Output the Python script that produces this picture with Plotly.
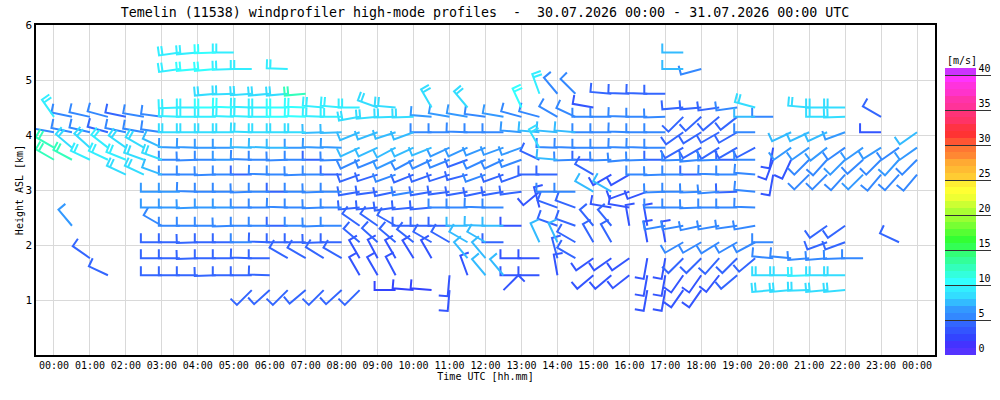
import math
import plotly.graph_objects as go


def gap(n):
    return [None] * n


# profile times, hours after 30.07.2026 00:00 UTC
times = [0.0, 0.5, 1.0, 1.5, 2.0, 2.5, 3.0, 3.5, 4.0, 4.5, 5.0, 5.5, 6.0, 6.5, 7.0, 7.5,
         8.0, 8.5, 9.0, 9.5, 10.0, 10.5, 11.0, 11.5, 12.0, 12.5, 13.0, 13.5, 14.0, 14.5,
         15.0, 15.5, 16.0, 16.5, 17.0, 17.5, 18.0, 18.5, 19.0, 19.5, 20.0, 20.5, 21.0,
         21.5, 22.0, 22.5, 23.0, 23.5, 24.0]

hour_ticks = list(range(25))
hour_labels = ["00:00", "01:00", "02:00", "03:00", "04:00", "05:00", "06:00", "07:00",
               "08:00", "09:00", "10:00", "11:00", "12:00", "13:00", "14:00", "15:00",
               "16:00", "17:00", "18:00", "19:00", "20:00", "21:00", "22:00", "23:00", "00:00"]
height_ticks = [1, 2, 3, 4, 5, 6]
speed_ticks = [0, 5, 10, 15, 20, 25, 30, 35, 40]

# range gate heights, km ASL (top to bottom)
gate_km = [5.5, 5.2, 4.75, 4.5, 4.33, 4.05, 3.77, 3.55, 3.28, 2.97, 2.68, 2.35, 2.05, 1.76, 1.45, 1.18]

# wind speed [m/s] and direction [deg] per range gate
spd_g00 = gap(7) + [9, 9, 10, 9] + gap(24) + [7] + gap(13)
dir_g00 = gap(7) + [262, 265, 268, 270] + gap(24) + [270] + gap(13)

spd_g01 = gap(7) + [9, 10, 10, 9, 9] + gap(1) + [9] + gap(21) + [7, 5] + gap(12)
dir_g01 = gap(7) + [262, 265, 265, 268, 270] + gap(1) + [272] + gap(21) + [270, 255] + gap(12)

spd_g02 = gap(9) + [8, 8, 8, 8, 8, 12] + gap(12) + [9, 5, 5] + gap(1) + [4, 4, 4, 4] + gap(14)
dir_g02 = gap(9) + [265, 268, 266, 265, 265, 265] + gap(12) + [340, 320, 315] + gap(1) + [275, 272, 272, 270] + gap(14)

spd_g03 = (gap(7) + [9, 9, 10, 10, 9, 9, 10, 10, 9, 9, 9, 8, 8] + gap(1) + [8] + gap(1) + [8]
           + gap(2) + [10] + gap(3) + [3] + gap(4) + [4, 4, 4, 5, 8] + gap(2) + [8, 8, 8] + gap(4))
dir_g03 = (gap(7) + [268, 270, 270, 272, 272, 270, 270, 272, 275, 275, 270, 290, 275] + gap(1)
           + [330] + gap(1) + [320] + gap(2) + [335] + gap(3) + [280] + gap(4)
           + [265, 265, 262, 262, 285] + gap(2) + [275, 270, 270] + gap(4))

spd_g04 = ([9, 5, 5, 5, 4, 5, 5, 9, 9, 9, 9, 9, 9, 10, 10, 9, 9, 8, 8, 8, 8, 6, 6, 6, 5, 6,
            5, 5, 5, 5, 5, 5, 5, 5, 5, 4, 4, 4, 4, 7, 5] + gap(2) + [8, 8] + gap(1) + [4] + gap(2))
dir_g04 = ([325, 282, 283, 285, 282, 280, 278, 272, 270, 270, 272, 272, 270, 270, 272, 272, 270,
            260, 265, 268, 268, 275, 280, 280, 278, 280, 285, 285, 300, 295, 270, 270, 272, 270,
            268, 225, 228, 230, 232, 270, 270] + gap(2) + [270, 268] + gap(1) + [300] + gap(2))

spd_g05 = ([5, 5, 5, 4, 5, 5, 5, 8, 8, 8, 8, 8, 8, 8, 8, 7, 7, 7, 7, 7, 7, 5, 5, 5, 5, 5,
            6, 7, 7, 7, 5, 5, 5, 5, 5, 4, 4, 4, 4, 5]
           + gap(1) + [7, 7, 7, 6] + gap(1) + [3] + gap(1) + [7])
dir_g05 = ([280, 282, 283, 285, 282, 280, 278, 270, 270, 270, 270, 272, 270, 270, 270, 268, 268,
            248, 250, 252, 250, 270, 270, 272, 270, 270, 275, 275, 275, 275, 270, 270,
            272, 270, 270, 235, 238, 240, 240, 270]
           + gap(1) + [245, 245, 245, 250] + gap(1) + [270] + gap(1) + [235])

spd_g06 = [12, 8, 8, 9, 8, 8, 7, 6, 6, 6, 6, 7, 7, 7, 6, 6, 6, 7, 7, 7, 7, 7, 6, 6, 6, 6, 6,
           8, 5, 5, 5, 5, 5, 5, 5, 4, 4, 4, 4, 4, 3, 6, 6, 6, 5, 6, 6, 5, 6]
dir_g06 = [300, 310, 312, 308, 305, 300, 295, 272, 272, 270, 270, 272, 272, 270, 270, 272, 272,
           245, 245, 242, 245, 248, 245, 245, 248, 250, 250, 330, 272, 272, 270, 270, 272, 272,
           270, 240, 240, 238, 240, 242, 190, 235, 235, 232, 235, 235, 238, 235, 235]

spd_g07 = [12, 12, 9, 9, 9, 8, 8, 5, 5, 5, 6, 5, 5, 5, 5, 4, 5, 5, 5, 6, 5, 5, 5, 4, 5, 5, 5,
           4, 7, 5, 4, 5, 5, 5, 4, 5, 5, 5, 4, 5, 3, 3, 5, 5, 6, 5, 5, 6, 5]
dir_g07 = [300, 298, 295, 295, 292, 290, 290, 270, 268, 270, 270, 272, 270, 268, 270, 270, 268,
           245, 248, 245, 242, 245, 248, 250, 245, 245, 250, 295, 275, 268, 270, 268, 265, 268,
           270, 268, 265, 268, 270, 270, 200, 205, 225, 222, 225, 228, 225, 222, 225]

spd_g08 = (gap(4) + [8, 8, 7, 5, 5, 5, 5, 4, 5, 5, 5, 5, 4, 4, 4, 5, 4, 4, 4, 4, 5, 4, 4, 4, 4]
           + gap(1) + [4, 3, 3, 5, 5, 5, 4, 5, 5, 5, 3] + gap(1) + [5, 5, 5, 6, 5, 5, 5])
dir_g08 = (gap(4) + [295, 295, 290, 270, 270, 268, 270, 270, 272, 270, 268, 270, 270, 250, 252,
                     250, 248, 250, 252, 255, 250, 250, 250, 270, 270]
           + gap(1) + [300, 240, 240, 270, 268, 270, 270, 272, 270, 275, 190]
           + gap(1) + [225, 225, 222, 225, 220, 222, 220])

spd_g09 = (gap(6) + [6, 6, 5, 5, 5, 5, 5, 4, 5, 5, 5, 4, 4, 4, 5, 4, 4, 4, 4, 4, 4, 3, 5, 5,
                     7, 7, 3, 3, 5, 5, 5, 5, 4, 5] + gap(9))
dir_g09 = (gap(6) + [270, 270, 272, 270, 270, 268, 270, 270, 270, 268, 270, 260, 262, 258, 260,
                     260, 262, 260, 258, 260, 262, 230, 270, 270, 300, 300, 250, 250, 268, 270,
                     268, 265, 268, 275] + gap(9))

spd_g10 = (gap(6) + [6, 6, 6, 6, 6, 5, 5, 5, 5, 5, 5, 4, 4, 4, 4, 4, 5, 5, 5, 5] + gap(1)
           + [3, 4, 4] + gap(1) + [3, 3] + gap(1) + [5, 5, 5, 5, 5, 5] + gap(9))
dir_g10 = (gap(6) + [270, 270, 268, 270, 270, 270, 270, 272, 270, 268, 270, 265, 265, 262, 265,
                     265, 270, 270, 272, 270] + gap(1)
           + [345, 290, 290] + gap(1) + [280, 280] + gap(1) + [270, 270, 268, 270, 270, 272] + gap(9))

spd_g11 = (gap(1) + [6] + gap(4) + [5, 5, 5, 5, 5, 5, 5, 4, 5, 5, 5, 4, 4, 4, 4, 4, 4, 7, 7, 7, 3]
           + gap(1) + [4, 4, 4, 4, 3, 3, 5, 5, 5, 5, 5, 5] + gap(3) + [4, 4] + gap(4))
dir_g11 = (gap(1) + [320] + gap(4) + [300, 270, 270, 270, 268, 270, 270, 270, 270, 268, 270, 305,
                                      305, 300, 270, 270, 270, 270, 272, 270, 270]
           + gap(1) + [290, 290, 320, 320, 350, 350, 260, 260, 258, 260, 262, 260]
           + gap(3) + [235, 235] + gap(4))

spd_g12 = (gap(6) + [4, 4, 4, 4, 4, 5, 4, 4, 4, 4, 4, 4, 4, 4, 4, 4, 4, 7, 7, 4] + gap(1)
           + [7, 7, 4, 4, 4] + gap(1) + [3, 3, 5, 5, 5, 5, 5, 5] + gap(2) + [4, 4] + gap(2)
           + [4] + gap(1))
dir_g12 = (gap(6) + [270, 270, 268, 270, 270, 270, 272, 270, 270, 268, 270, 310, 312, 310, 308,
                     300, 300, 300, 300, 270] + gap(1)
           + [335, 335, 300, 330, 330] + gap(1) + [350, 350, 240, 240, 238, 240, 242, 270]
           + gap(2) + [250, 250] + gap(2) + [295] + gap(1))

spd_g13 = (gap(2) + [4] + gap(3) + [4, 4, 4, 4, 4, 4, 4, 4, 4, 4, 4, 3, 3, 3, 3, 3] + gap(1)
           + [7, 7] + gap(1) + [3, 3, 4, 4, 3, 3, 3, 3, 3, 4, 4, 4, 4, 4, 5, 5, 5, 5, 5, 5]
           + gap(3))
dir_g13 = (gap(2) + [305] + gap(3) + [270, 270, 268, 270, 270, 272, 270, 300, 300, 302, 300, 330,
                                      332, 330, 328, 330] + gap(1)
           + [320, 320] + gap(1) + [270, 270, 345, 300, 235, 235, 235, 190, 190, 225, 225, 222,
                                    225, 230, 275, 275, 265, 265, 268, 270] + gap(3))

spd_g14 = (gap(3) + [4] + gap(2) + [4, 4, 4, 4, 4, 4, 4] + gap(4) + [3, 3, 3] + gap(2)
           + [3, 3, 7, 7, 3, 3, 3] + gap(1) + [3, 3, 3, 3, 3, 3, 3, 3, 4] + gap(1)
           + [8, 8, 9, 8, 8] + gap(4))
dir_g14 = (gap(3) + [295] + gap(2) + [270, 270, 270, 268, 270, 270, 272] + gap(4) + [330, 330, 332]
           + gap(2) + [185, 340, 320, 320, 270, 270, 350] + gap(1)
           + [230, 230, 232, 190, 190, 215, 215, 218, 230] + gap(1)
           + [270, 270, 268, 270, 270] + gap(4))

spd_g15 = (gap(11) + [4, 4, 4, 4, 4, 4, 4] + gap(1) + [2, 2, 2, 3] + gap(2) + [3] + gap(7)
           + [3, 3, 3, 3] + gap(3) + [8, 8, 8, 8, 8] + gap(4))
dir_g15 = (gap(11) + [225, 228, 225, 230, 225, 228, 225] + gap(1) + [270, 275, 275, 185] + gap(2)
           + [45] + gap(7) + [190, 190, 215, 215] + gap(3) + [265, 265, 268, 265, 265] + gap(4))

gate_speeds = [spd_g00, spd_g01, spd_g02, spd_g03, spd_g04, spd_g05, spd_g06, spd_g07,
               spd_g08, spd_g09, spd_g10, spd_g11, spd_g12, spd_g13, spd_g14, spd_g15]
gate_dirs = [dir_g00, dir_g01, dir_g02, dir_g03, dir_g04, dir_g05, dir_g06, dir_g07,
             dir_g08, dir_g09, dir_g10, dir_g11, dir_g12, dir_g13, dir_g14, dir_g15]

# one colour per 1 m/s band, 0 .. 40+
band_colors = [
    "#5533ff", "#4433ff", "#3344ff", "#3355ff", "#3366ff", "#3388ff", "#3399ff", "#33bbff",
    "#33ddff", "#33eeff", "#33ffff", "#33ffdd", "#33ffbb", "#33ff99", "#33ff77", "#33ff55",
    "#33ff33", "#55ff33", "#77ff33", "#99ff33", "#aaff33", "#ccff33", "#eeff33", "#ffff33",
    "#ffee33", "#ffcc33", "#ffbb33", "#ffaa33", "#ff8833", "#ff7733", "#ff5533", "#ff3333",
    "#ff3344", "#ff3366", "#ff3377", "#ff3399", "#ff33aa", "#ff33cc", "#ff33dd", "#ff33ff",
    "#cc33ff",
]

# plot geometry (pixels) so barbs keep their shape
W, H = 1000, 400
ML, MR, MT, MB = 36, 65, 25, 45
PW, PH = W - ML - MR, H - MT - MB
X0, X1 = -0.5, 24.5
Y0, Y1 = 0, 6
PXH = PW / (X1 - X0)
PXK = PH / (Y1 - Y0)
SHAFT, TICK, STEP = 21, 9, 3.5
CB_LEFT, CB_W, CB_LINE = 10, 31, 46   # colour scale offsets / sizes in px
CB_UNIT = 7                           # pixels per 1 m/s on the colour scale

seg_x = {}
seg_y = {}
base_t, base_h, base_s = [], [], []
for h, spds, dirs in zip(gate_km, gate_speeds, gate_dirs):
    assert len(spds) == len(times) and len(dirs) == len(times)
    for t, s, d in zip(times, spds, dirs):
        if s is None:
            continue
        a = math.radians(d)
        ux, uy = math.sin(a), math.cos(a)
        px, py = uy, -ux
        tx, ty = SHAFT * ux, SHAFT * uy
        band = min(int(s), 40)
        xs = seg_x.setdefault(band, [])
        ys = seg_y.setdefault(band, [])
        xs += [t, t + tx / PXH]
        ys += [h, h + ty / PXK]
        n = max(1, round(s / 5))
        for k in range(n):
            ox, oy = tx - k * STEP * ux, ty - k * STEP * uy
            if k > 0:
                xs += [None, t + ox / PXH]
                ys += [None, h + oy / PXK]
            xs += [t + (ox + TICK * px) / PXH]
            ys += [h + (oy + TICK * py) / PXK]
        xs.append(None)
        ys.append(None)
        base_t.append(t)
        base_h.append(h)
        base_s.append(s)

fig = go.Figure()
for band in sorted(seg_x):
    fig.add_trace(go.Scatter(x=seg_x[band], y=seg_y[band], mode="lines",
                             line=dict(color=band_colors[band], width=2),
                             hoverinfo="skip", showlegend=False))

scale = []
nb = len(band_colors)
for k, c in enumerate(band_colors):
    scale.append([k / nb, c])
    scale.append([(k + 1) / nb, c])

mono = "DejaVu Sans Mono"
cb_common = dict(thicknessmode="pixels", len=CB_UNIT * nb / PH, lenmode="fraction",
                 x=1 + CB_LEFT / PW, xref="paper", xanchor="left",
                 y=0, yref="paper", yanchor="bottom",
                 xpad=0, ypad=0, outlinewidth=0, bgcolor="rgba(0,0,0,0)",
                 tickvals=speed_ticks)

# colour scale with labels
fig.add_trace(go.Scatter(
    x=base_t, y=base_h, mode="markers", hoverinfo="skip", showlegend=False,
    marker=dict(size=1, opacity=0, color=base_s, cmin=0, cmax=nb, colorscale=scale,
                showscale=True,
                colorbar=dict(thickness=CB_W, ticks="", ticklabelposition="outside top",
                              tickfont=dict(family=mono, size=10, color="black"),
                              **cb_common))))
# transparent overlay scale that only draws the level lines across the bar
fig.add_trace(go.Scatter(
    x=base_t, y=base_h, mode="markers", hoverinfo="skip", showlegend=False,
    marker=dict(size=1, opacity=0, color=base_s, cmin=0, cmax=nb,
                colorscale=[[0, "rgba(0,0,0,0)"], [1, "rgba(0,0,0,0)"]],
                showscale=True,
                colorbar=dict(thickness=CB_LINE, ticks="inside", ticklen=CB_LINE,
                              tickcolor="#333333", tickwidth=1, showticklabels=False,
                              **cb_common))))

fig.add_annotation(text="[m/s]", xref="paper", yref="paper", showarrow=False,
                   x=1 + CB_LEFT / PW, xanchor="left",
                   y=(CB_UNIT * nb + 8) / PH, yanchor="middle",
                   font=dict(family=mono, size=10, color="black"))

fig.update_layout(
    width=W, height=H,
    margin=dict(l=ML, r=MR, t=MT, b=MB, autoexpand=False),
    plot_bgcolor="white", paper_bgcolor="white",
    title=dict(text="Temelin (11538) windprofiler high-mode profiles \u00a0-\u00a0 "
                    "30.07.2026 00:00 - 31.07.2026 00:00 UTC",
               x=0.485, xref="container", xanchor="center",
               y=1 - 12 / H, yref="container", yanchor="middle",
               font=dict(family=mono, size=13.3, color="black")),
    font=dict(family=mono, size=10, color="black"),
)
fig.update_xaxes(range=[X0, X1], tickvals=hour_ticks, ticktext=hour_labels,
                 showgrid=True, gridcolor="#d9d9d9", gridwidth=1, zeroline=False,
                 showline=True, linecolor="black", linewidth=1.5, mirror=True,
                 ticks="", tickfont=dict(family=mono, size=10, color="black"),
                 title=dict(text="Time UTC [hh.mm]", standoff=0,
                            font=dict(family=mono, size=10, color="black")))
fig.update_yaxes(range=[Y0, Y1], tickvals=height_ticks,
                 showgrid=True, gridcolor="#d9d9d9", gridwidth=1, zeroline=False,
                 showline=True, linecolor="black", linewidth=1.5, mirror=True,
                 ticks="", tickfont=dict(family=mono, size=11, color="black"),
                 title=dict(text="Height ASL [km]", standoff=0,
                            font=dict(family=mono, size=10, color="black")))

fig.write_html("out.html", config={"displayModeBar": False},
               post_script="document.body.style.margin='0';")
